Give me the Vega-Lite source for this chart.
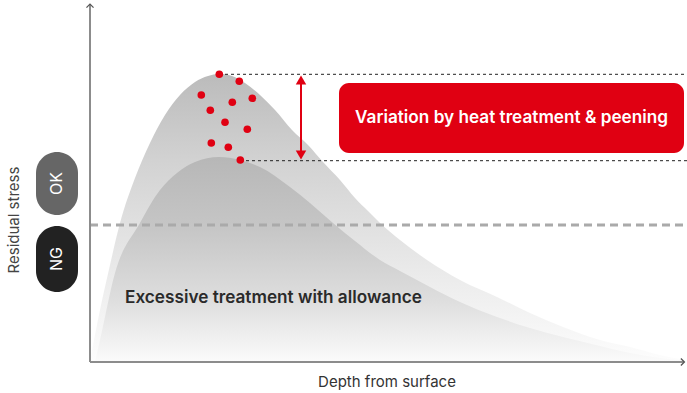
{
  "$schema": "https://vega.github.io/schema/vega-lite/v6.json",
  "width": 687,
  "height": 393,
  "padding": 0,
  "autosize": {"type": "none"},
  "config": {"view": {"stroke": null}, "font": "Inter"},
  "datasets": {
    "outer": [
      {"x": 0, "y": 0}, {"x": 5, "y": 27}, {"x": 10, "y": 52}, {"x": 20, "y": 97}, {"x": 30, "y": 139},
      {"x": 45, "y": 184}, {"x": 60, "y": 219}, {"x": 75, "y": 247}, {"x": 90, "y": 267}, {"x": 105, "y": 280},
      {"x": 118, "y": 286}, {"x": 129, "y": 288}, {"x": 142, "y": 286}, {"x": 155, "y": 279}, {"x": 170, "y": 267},
      {"x": 185, "y": 252}, {"x": 202, "y": 232}, {"x": 218, "y": 217}, {"x": 233, "y": 200}, {"x": 250, "y": 182},
      {"x": 265, "y": 164}, {"x": 278, "y": 151}, {"x": 290, "y": 139}, {"x": 310, "y": 122}, {"x": 337, "y": 102},
      {"x": 370, "y": 82}, {"x": 407, "y": 65}, {"x": 440, "y": 49}, {"x": 473, "y": 35}, {"x": 510, "y": 22},
      {"x": 540, "y": 15}, {"x": 570, "y": 7}, {"x": 595, "y": 2}
    ],
    "inner": [
      {"x": 5, "y": 0}, {"x": 10, "y": 22}, {"x": 25, "y": 89}, {"x": 50, "y": 139}, {"x": 70, "y": 172},
      {"x": 87, "y": 189}, {"x": 105, "y": 200}, {"x": 129, "y": 205}, {"x": 150, "y": 202}, {"x": 170, "y": 195},
      {"x": 200, "y": 175}, {"x": 220, "y": 159}, {"x": 243, "y": 139}, {"x": 265, "y": 121}, {"x": 290, "y": 102},
      {"x": 310, "y": 91}, {"x": 340, "y": 75}, {"x": 370, "y": 60}, {"x": 407, "y": 45}, {"x": 440, "y": 34},
      {"x": 473, "y": 25}, {"x": 510, "y": 16}, {"x": 540, "y": 9}, {"x": 570, "y": 4}, {"x": 595, "y": 1}
    ],
    "dots": [
      {"x": 129.3, "y": 287.7}, {"x": 149.3, "y": 280.7}, {"x": 111.3, "y": 267}, {"x": 142.3, "y": 259.7},
      {"x": 162.3, "y": 263.7}, {"x": 120.3, "y": 251.7}, {"x": 135, "y": 239.7}, {"x": 157.3, "y": 232.7},
      {"x": 121.3, "y": 219}, {"x": 138.3, "y": 214.7}, {"x": 150.3, "y": 202}
    ]
  },
  "layer": [
    {
      "data": {"name": "outer"},
      "mark": {"type": "area", "interpolate": "monotone",
        "color": {"gradient": "linear", "x1": 0, "y1": 0, "x2": 0, "y2": 1,
          "stops": [{"offset": 0, "color": "#bbbbbb"}, {"offset": 0.3, "color": "#d2d2d2"}, {"offset": 0.7, "color": "#ebebeb"}, {"offset": 1, "color": "#fdfdfd"}]}},
      "encoding": {
        "x": {"field": "x", "type": "quantitative", "scale": {"domain": [-90, 597], "nice": false, "zero": false}, "axis": null},
        "y": {"field": "y", "type": "quantitative", "scale": {"domain": [-31, 362], "nice": false, "zero": false}, "axis": null},
        "y2": {"datum": 0}
      }
    },
    {
      "data": {"name": "inner"},
      "mark": {"type": "area", "interpolate": "monotone",
        "color": {"gradient": "linear", "x1": 0, "y1": 0, "x2": 0, "y2": 1,
          "stops": [{"offset": 0, "color": "#b7b7b7"}, {"offset": 0.35, "color": "#c6c6c6"}, {"offset": 0.7, "color": "#dedede"}, {"offset": 1, "color": "#fbfbfb"}]}},
      "encoding": {
        "x": {"field": "x", "type": "quantitative", "scale": {"domain": [-90, 597], "nice": false, "zero": false}, "axis": null},
        "y": {"field": "y", "type": "quantitative", "scale": {"domain": [-31, 362], "nice": false, "zero": false}, "axis": null},
        "y2": {"datum": 0}
      }
    },
    {
      "data": {"values": [{"x": 0, "x2": 597, "y": 137}]},
      "mark": {"type": "rule", "color": "#aaaaaa", "strokeWidth": 3, "strokeDash": [8, 5]},
      "encoding": {
        "x": {"field": "x", "type": "quantitative", "axis": null},
        "x2": {"field": "x2"},
        "y": {"field": "y", "type": "quantitative", "axis": null}
      }
    },
    {
      "data": {"values": [{"x": 129, "x2": 597, "y": 287.7}, {"x": 150, "x2": 597, "y": 201.3}]},
      "mark": {"type": "rule", "color": "#222222", "strokeWidth": 1, "strokeDash": [3, 3]},
      "encoding": {
        "x": {"field": "x", "type": "quantitative", "axis": null},
        "x2": {"field": "x2"},
        "y": {"field": "y", "type": "quantitative", "axis": null}
      }
    },
    {
      "data": {"values": [{"x": 0, "y": 0, "y2": 358}]},
      "mark": {"type": "rule", "color": "#8c8c8c", "strokeWidth": 2},
      "encoding": {
        "x": {"field": "x", "type": "quantitative", "axis": null},
        "y": {"field": "y", "type": "quantitative", "axis": null},
        "y2": {"field": "y2"}
      }
    },
    {
      "data": {"values": [{"x": 0, "x2": 594, "y": 0}]},
      "mark": {"type": "rule", "color": "#8c8c8c", "strokeWidth": 2},
      "encoding": {
        "x": {"field": "x", "type": "quantitative", "axis": null},
        "x2": {"field": "x2"},
        "y": {"field": "y", "type": "quantitative", "axis": null}
      }
    },
    {
      "data": {"values": [{"x": 0, "y": 356.5}]},
      "mark": {"type": "point", "shape": "M-1,0.6L0,-0.4L1,0.6", "filled": false, "stroke": "#555555", "strokeWidth": 1.3, "size": 50, "opacity": 1},
      "encoding": {
        "x": {"field": "x", "type": "quantitative", "axis": null},
        "y": {"field": "y", "type": "quantitative", "axis": null}
      }
    },
    {
      "data": {"values": [{"x": 593, "y": 0}]},
      "mark": {"type": "point", "shape": "M-0.6,-1L0.4,0L-0.6,1", "filled": false, "stroke": "#555555", "strokeWidth": 1.3, "size": 50, "opacity": 1},
      "encoding": {
        "x": {"field": "x", "type": "quantitative", "axis": null},
        "y": {"field": "y", "type": "quantitative", "axis": null}
      }
    },
    {
      "data": {"values": [{"x": 211, "y": 280, "y2": 209}]},
      "mark": {"type": "rule", "color": "#e00012", "strokeWidth": 2},
      "encoding": {
        "x": {"field": "x", "type": "quantitative", "axis": null},
        "y": {"field": "y", "type": "quantitative", "axis": null},
        "y2": {"field": "y2"}
      }
    },
    {
      "data": {"values": [{"x": 211, "y": 282, "dir": "up"}, {"x": 211, "y": 207, "dir": "down"}]},
      "mark": {"type": "point", "filled": true, "color": "#e00012", "opacity": 1, "size": 110},
      "encoding": {
        "x": {"field": "x", "type": "quantitative", "axis": null},
        "y": {"field": "y", "type": "quantitative", "axis": null},
        "shape": {"field": "dir", "type": "nominal", "scale": {"domain": ["up", "down"], "range": ["triangle-up", "triangle-down"]}, "legend": null}
      }
    },
    {
      "data": {"values": [{"x": 249, "x2": 594, "y": 279, "y2": 209}]},
      "mark": {"type": "rect", "color": "#e00012", "cornerRadius": 10},
      "encoding": {
        "x": {"field": "x", "type": "quantitative", "axis": null},
        "x2": {"field": "x2"},
        "y": {"field": "y", "type": "quantitative", "axis": null},
        "y2": {"field": "y2"}
      }
    },
    {
      "data": {"values": [{"x": 421.5, "y": 244, "label": "Variation by heat treatment & peening"}]},
      "mark": {"type": "text", "color": "#ffffff", "fontSize": 17.2, "fontWeight": 600, "align": "center", "baseline": "middle", "font": "Inter"},
      "encoding": {
        "x": {"field": "x", "type": "quantitative", "axis": null},
        "y": {"field": "y", "type": "quantitative", "axis": null},
        "text": {"field": "label"}
      }
    },
    {
      "data": {"name": "dots"},
      "mark": {"type": "point", "filled": true, "color": "#e00012", "opacity": 1, "size": 58, "shape": "circle"},
      "encoding": {
        "x": {"field": "x", "type": "quantitative", "axis": null},
        "y": {"field": "y", "type": "quantitative", "axis": null}
      }
    },
    {
      "data": {"values": [{"x": -54, "x2": -12, "y": 210, "y2": 147, "c": "OK"}, {"x": -54, "x2": -12, "y": 136, "y2": 70, "c": "NG"}]},
      "mark": {"type": "rect", "cornerRadius": 21},
      "encoding": {
        "x": {"field": "x", "type": "quantitative", "axis": null},
        "x2": {"field": "x2"},
        "y": {"field": "y", "type": "quantitative", "axis": null},
        "y2": {"field": "y2"},
        "color": {"field": "c", "type": "nominal", "scale": {"domain": ["OK", "NG"], "range": ["#666666", "#222222"]}, "legend": null}
      }
    },
    {
      "data": {"values": [{"x": -33, "y": 178.5, "label": "OK"}, {"x": -33, "y": 103, "label": "NG"}]},
      "mark": {"type": "text", "color": "#ffffff", "fontSize": 16, "angle": 270, "align": "center", "baseline": "middle", "font": "Inter"},
      "encoding": {
        "x": {"field": "x", "type": "quantitative", "axis": null},
        "y": {"field": "y", "type": "quantitative", "axis": null},
        "text": {"field": "label"}
      }
    },
    {
      "data": {"values": [{"x": -76, "y": 142, "label": "Residual stress"}]},
      "mark": {"type": "text", "color": "#444444", "fontSize": 15, "angle": 270, "align": "center", "baseline": "middle", "font": "Inter"},
      "encoding": {
        "x": {"field": "x", "type": "quantitative", "axis": null},
        "y": {"field": "y", "type": "quantitative", "axis": null},
        "text": {"field": "label"}
      }
    },
    {
      "data": {"values": [{"x": 297, "y": -20, "label": "Depth from surface"}]},
      "mark": {"type": "text", "color": "#333333", "fontSize": 15, "align": "center", "baseline": "middle", "font": "Inter"},
      "encoding": {
        "x": {"field": "x", "type": "quantitative", "axis": null},
        "y": {"field": "y", "type": "quantitative", "axis": null},
        "text": {"field": "label"}
      }
    },
    {
      "data": {"values": [{"x": 35, "y": 64, "label": "Excessive treatment with allowance"}]},
      "mark": {"type": "text", "color": "#2a2a2a", "fontSize": 17.2, "fontWeight": 600, "align": "left", "baseline": "middle", "font": "Inter"},
      "encoding": {
        "x": {"field": "x", "type": "quantitative", "axis": null},
        "y": {"field": "y", "type": "quantitative", "axis": null},
        "text": {"field": "label"}
      }
    }
  ]
}
